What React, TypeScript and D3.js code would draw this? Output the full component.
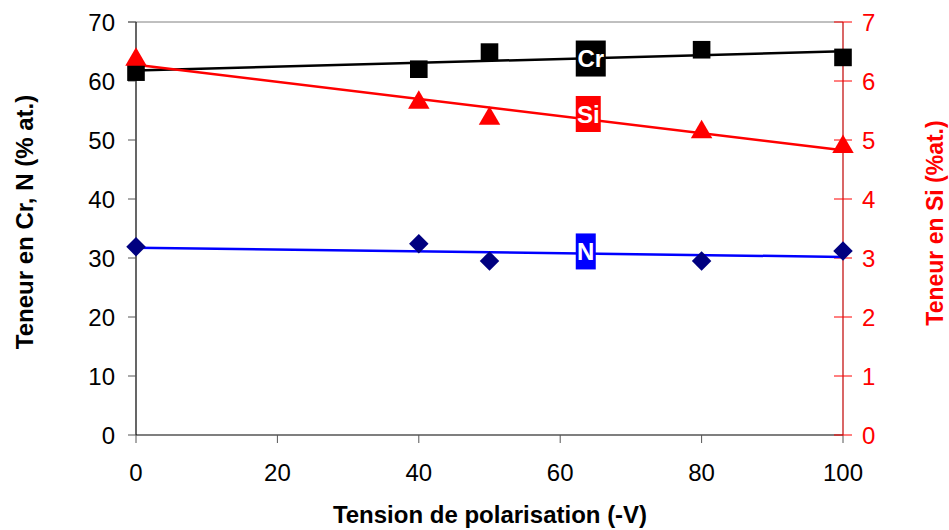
import React from "react";
import * as d3 from "d3";

// tension de polarisation (-V)
const tension = [0, 40, 50, 80, 100];
const crValues = [61.5, 62.0, 64.9, 65.3, 64.0];
const nValues = [31.9, 32.4, 29.5, 29.5, 31.2];
const siValues = [6.38, 5.65, 5.38, 5.15, 4.9];

const xTicks = [0, 20, 40, 60, 80, 100];
const yLeftTicks = [0, 10, 20, 30, 40, 50, 60, 70];
const yRightTicks = [0, 1, 2, 3, 4, 5, 6, 7];
const labelX = 62.2;

const W = 949;
const H = 530;
const margin = { top: 22, right: 106, bottom: 95, left: 136 };
const FONT = "'Liberation Sans', Arial, sans-serif";

// least squares line, like excel's linear trendline
function fit(xs: number[], ys: number[]) {
  const mx = d3.mean(xs)!;
  const my = d3.mean(ys)!;
  let sxy = 0, sxx = 0;
  xs.forEach((x, i) => {
    sxy += (x - mx) * (ys[i] - my);
    sxx += (x - mx) * (x - mx);
  });
  const slope = sxy / sxx;
  const b = my - slope * mx;
  return (x: number) => b + slope * x;
}

export default function App() {
  const x = d3.scaleLinear().domain([0, 100]).range([margin.left, W - margin.right]);
  const yL = d3.scaleLinear().domain([0, 70]).range([H - margin.bottom, margin.top]);
  const yR = d3.scaleLinear().domain([0, 7]).range([H - margin.bottom, margin.top]);

  const crFit = fit(tension, crValues);
  const nFit = fit(tension, nValues);
  const siFit = fit(tension, siValues);

  const trend = (f: (v: number) => number, y: d3.ScaleLinear<number, number>) =>
    d3.line<number>().x(d => x(d)).y(d => y(f(d)))([0, 100]) || "";

  const x0 = x(0), x1 = x(100);
  const yb = yL(0), yt = yL(70);

  const sq = d3.symbol().type(d3.symbolSquare).size(310)() || "";
  const tri = d3.symbol().type(d3.symbolTriangle).size(200)() || "";
  const dia = d3.symbol().type(d3.symbolSquare).size(190)() || "";

  const labels = [
    { text: "Cr", bg: "#000000", y: yL(crFit(labelX)), w: 30 },
    { text: "Si", bg: "#FF0000", y: yR(siFit(labelX)) - 4, w: 25 },
    { text: "N", bg: "#0000FF", y: yL(nFit(labelX)) - 2, w: 20 },
  ];

  return (
    <svg width={W} height={H} style={{ position: "absolute", left: 0, top: 0, display: "block" }}
      fontFamily={FONT}>
      <rect width={W} height={H} fill="#fff" />
      {/* top border */}
      <line x1={x0 - 8} x2={x1} y1={yt} y2={yt} stroke="#808080" strokeWidth={1} />

      {/* left axis */}
      <line x1={x0} x2={x0} y1={yt} y2={yb} stroke="#000" strokeWidth={1.2} />
      {yLeftTicks.map(t => (
        <g key={"l" + t}>
          <line x1={x0 - 8} x2={x0} y1={yL(t)} y2={yL(t)} stroke="#555" />
          <text x={x0 - 21} y={yL(t)} dy="0.36em" textAnchor="end" fontSize={24}>{t}</text>
        </g>
      ))}

      {/* bottom axis */}
      <line x1={x0} x2={x1} y1={yb} y2={yb} stroke="#000" strokeWidth={1.2} />
      {xTicks.map(t => (
        <g key={"b" + t}>
          <line x1={x(t)} x2={x(t)} y1={yb} y2={yb + 8} stroke="#555" />
          <text x={x(t)} y={481} textAnchor="middle" fontSize={24}>{t}</text>
        </g>
      ))}

      {/* right axis */}
      <line x1={x1} x2={x1} y1={yt} y2={yb} stroke="#C00000" strokeWidth={1.2} />
      {yRightTicks.map(t => (
        <g key={"r" + t}>
          <line x1={x1 - 9} x2={x1 + 9} y1={yR(t)} y2={yR(t)} stroke="#FF0000" strokeWidth={1} />
          <text x={x1 + 19} y={yR(t)} dy="0.36em" textAnchor="start" fontSize={24} fill="#FF0000">{t}</text>
        </g>
      ))}

      {/* trend lines */}
      <path d={trend(crFit, yL)} stroke="#000" strokeWidth={2.5} fill="none" />
      <path d={trend(siFit, yR)} stroke="#FF0000" strokeWidth={2.5} fill="none" />
      <path d={trend(nFit, yL)} stroke="#0000FF" strokeWidth={2.5} fill="none" />

      {/* markers */}
      {tension.map((t, i) => (
        <path key={"cr" + i} d={sq} transform={`translate(${x(t)},${yL(crValues[i])})`} fill="#000" />
      ))}
      {tension.map((t, i) => (
        <path key={"si" + i} d={tri} transform={`translate(${x(t)},${yR(siValues[i]) + 1})`} fill="#FF0000" />
      ))}
      {tension.map((t, i) => (
        <path key={"n" + i} d={dia} transform={`translate(${x(t)},${yL(nValues[i])}) rotate(45)`} fill="#000080" />
      ))}

      {/* series labels */}
      {labels.map(l => (
        <g key={l.text}>
          <rect x={x(labelX)} y={l.y - 18} width={l.w} height={36} fill={l.bg} />
          <text x={x(labelX) + l.w / 2} y={l.y} dy="0.36em" textAnchor="middle" fill="#fff"
            fontSize={24} fontWeight="bold">{l.text}</text>
        </g>
      ))}

      {/* axis titles */}
      <text x={490} y={523} textAnchor="middle" fontSize={24} fontWeight="bold">Tension de polarisation (-V)</text>
      <text transform={`translate(33,222) rotate(-90)`} textAnchor="middle" fontSize={24} fontWeight="bold">
        Teneur en Cr, N (% at.)
      </text>
      <text transform={`translate(943,223) rotate(-90)`} textAnchor="middle" fontSize={23} fontWeight="bold"
        fill="#FF0000">Teneur en Si (%at.)</text>
    </svg>
  );
}
